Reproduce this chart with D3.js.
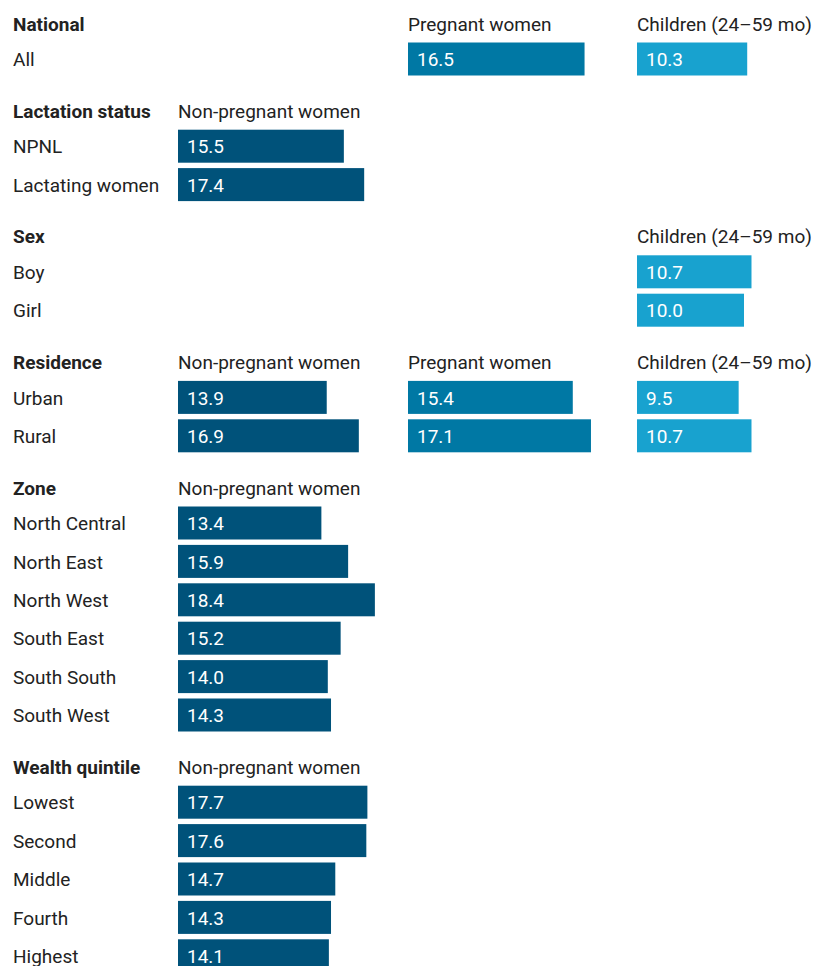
<!DOCTYPE html>
<html>
<head>
<meta charset="utf-8">
<script src="https://cdn.jsdelivr.net/npm/d3@7"></script>
<style>
  body { margin: 0; background: #fff; }
  svg text { font-family: Roboto, 'Noto Sans', sans-serif; }
</style>
</head>
<body>
<div id="chart"></div>
<script>
// Data

var groups = ['National', 'Lactation status', 'Sex', 'Residence', 'Zone', 'Wealth quintile']

var rowLabels = [
  ['All'],
  ['NPNL', 'Lactating women'],
  ['Boy', 'Girl'],
  ['Urban', 'Rural'],
  ['North Central', 'North East', 'North West', 'South East', 'South South', 'South West'],
  ['Lowest', 'Second', 'Middle', 'Fourth', 'Highest']
]

var nonPregnant = [
  [null],
  [15.5, 17.4],
  [null, null],
  [13.9, 16.9],
  [13.4, 15.9, 18.4, 15.2, 14.0, 14.3],
  [17.7, 17.6, 14.7, 14.3, 14.1]
]

var pregnant = [
  [16.5],
  [null, null],
  [null, null],
  [15.4, 17.1],
  [null, null, null, null, null, null],
  [null, null, null, null, null]
]

var children = [
  [10.3],
  [null, null],
  [10.7, 10.0],
  [9.5, 10.7],
  [null, null, null, null, null, null],
  [null, null, null, null, null]
]

var seriesNames = ['Non-pregnant women', 'Pregnant women', 'Children (24\u201359 mo)']
var seriesValues = [nonPregnant, pregnant, children]

// Set up size

var width = 816
var height = 966

var svg = d3
  .select('#chart')
  .append('svg')
  .attr('width', width)
  .attr('height', height)

// Scales

var colStart = d3.scaleOrdinal().domain(seriesNames).range([178, 408, 637])
var colorScale = d3.scaleOrdinal().domain(seriesNames).range(['#00527a', '#0078a4', '#18a2cf'])
var xScale = d3.scaleLinear().domain([0, 20]).range([0, 214])

// vertical layout: header, rows, gap
var slots = []
var yPos = []
var y = 24
groups.forEach((g, gi) => {
  slots.push('h' + gi)
  yPos.push(y)
  y += 35.5
  rowLabels[gi].forEach((r, ri) => {
    slots.push(gi + '-' + ri)
    yPos.push(y)
    if (ri < rowLabels[gi].length - 1) y += 38.4
  })
  y += 51.7
})
var yScale = d3.scaleOrdinal().domain(slots).range(yPos)

var barHeight = 33
var textColor = '#222'

// group headers
svg
  .selectAll('.group-label')
  .data(groups)
  .enter()
  .append('text')
  .attr('class', 'group-label')
  .attr('x', 13)
  .attr('y', (d, i) => yScale('h' + i))
  .attr('dy', '0.35em')
  .attr('font-size', 19)
  .attr('font-weight', 'bold')
  .attr('fill', textColor)
  .text(d => d)

groups.forEach((g, gi) => {
  // column headers where the column has values
  seriesNames.forEach((s, si) => {
    var vals = seriesValues[si][gi]
    if (vals.some(v => v !== null)) {
      svg
        .append('text')
        .attr('x', colStart(s))
        .attr('y', yScale('h' + gi))
        .attr('dy', '0.35em')
        .attr('font-size', 19)
        .attr('fill', textColor)
        .text(s)
    }
  })

  var rows = rowLabels[gi].map((r, ri) => ({ label: r, key: gi + '-' + ri }))

  svg
    .selectAll('.row-label-' + gi)
    .data(rows)
    .enter()
    .append('text')
    .attr('x', 13)
    .attr('y', d => yScale(d.key))
    .attr('dy', '0.35em')
    .attr('font-size', 19)
    .attr('fill', textColor)
    .text(d => d.label)

  seriesNames.forEach((s, si) => {
    var bars = rows
      .map((r, ri) => ({ key: r.key, value: seriesValues[si][gi][ri] }))
      .filter(d => d.value !== null)

    svg
      .selectAll('.bar-' + gi + '-' + si)
      .data(bars)
      .enter()
      .append('rect')
      .attr('x', colStart(s))
      .attr('y', d => yScale(d.key) - barHeight / 2 - 0.5)
      .attr('width', d => xScale(d.value))
      .attr('height', barHeight)
      .attr('fill', colorScale(s))

    svg
      .selectAll('.val-' + gi + '-' + si)
      .data(bars)
      .enter()
      .append('text')
      .attr('x', colStart(s) + 9)
      .attr('y', d => yScale(d.key))
      .attr('dy', '0.35em')
      .attr('font-size', 19)
      .attr('fill', '#fff')
      .text(d => d3.format('.1f')(d.value))
  })
})
</script>
</body>
</html>
